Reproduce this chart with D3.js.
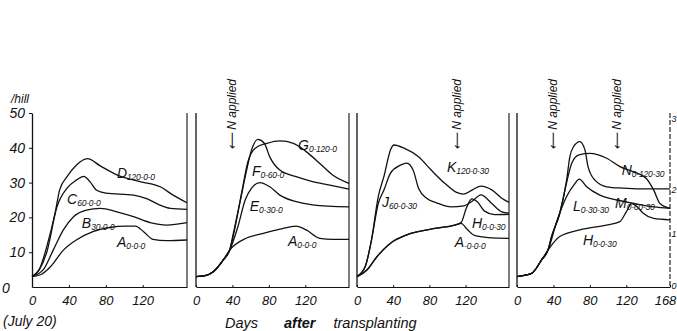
<!DOCTYPE html>
<html>
<head>
<meta charset="utf-8">
<script src="https://cdn.jsdelivr.net/npm/d3@7"></script>
<style>
  body { margin: 0; background: #fff; }
  svg text { font-family: "Liberation Sans", Arial, sans-serif; font-style: italic; fill: #111; }
</style>
</head>
<body>
<svg id="chart" width="677" height="331"></svg>
<script>
// dry matter per hill (g) vs days after transplanting
const xTicks = [0, 40, 80, 120];
const xTicksLast = [0, 40, 80, 120, 168];
const yTicks = [10, 20, 30, 40, 50];

// panel 1
const p1A = [[0,3],[10,3.6],[20,5.8],[34,10.6],[48,13.5],[66,15.9],[84,17.1],[102,17.5],[112,17.5],[121,15.9],[131,13.7],[146,13.3],[168,13.5]];
const p1B = [[0,3],[12,4.9],[23,10.6],[34,16.4],[45,20.2],[59,22.1],[74,22.6],[92,21.6],[110,20.2],[128,18.5],[146,17.8],[168,18.5]];
const p1C = [[0,3],[8,5],[16,10],[27,23],[38,28.4],[48,30.7],[56,31.8],[63,30.2],[70,27.8],[80,27],[110,26.4],[125,25.3],[138,23.6],[150,22.6],[168,22.3]];
const p1D = [[0,3],[8.7,5.5],[16,11.6],[25,21.2],[30,27.9],[38,31.7],[48,35],[60,36.9],[74,34.8],[92,32.2],[117,30.3],[139,28.8],[153,26.4],[168,24.2]];

// panel 2
const p2A = [[0,3],[10,3.3],[19,4.4],[30,7.8],[37,10.6],[55,14],[74,15.4],[92,16.6],[110,17.5],[121,16.4],[136,14],[150,13.7],[168,13.7]];
const p2E = [[0,3],[10,3.3],[19,4.4],[30,7.8],[37,10.6],[46,17.3],[54,25],[61,28.4],[70,30],[81,28.8],[92,26.4],[110,24.5],[128,23.6],[168,23]];
const p2F = [[0,3],[10,3.3],[19,4.4],[30,7.8],[37,10.6],[41,15.4],[48,24],[55.6,33.6],[61,39.4],[68,42.4],[75,41.3],[81,37.4],[92,33.6],[110,31.7],[128,30.3],[147,29.3],[168,28.1]];
const p2G = [[0,3],[10,3.3],[19,4.4],[30,7.8],[37,10.6],[42,16],[50,26.9],[57,36],[65,39.9],[78,41.3],[92,42],[107,41.3],[121,38.9],[136,35.5],[150,32.2],[168,29.8]];

// panel 3
const p3A = [[0,3],[11,4.9],[22,8.7],[37,12.6],[55,15],[88,16.9],[108,17.8],[115,18.3],[122,16.5],[130,14.8],[145,14.2],[168,14]];
const p3H = [[0,3],[11,4.9],[22,8.7],[37,12.6],[55,15],[88,16.9],[108,17.8],[115,18.5],[121,22.8],[127,25.3],[133,24.5],[141,21.8],[152,20.8],[168,20.9]];
const p3J = [[0,3],[9,5.8],[16,13.5],[23.5,24],[30,28],[37,32.7],[48,35],[55,35.6],[62,33.6],[68,28.4],[77,25.5],[88,24.2],[104,23],[118,23.3],[128,24.8],[137,26.5],[149,24],[160,21.6],[168,21.2]];
const p3K = [[0,3],[9,5.8],[16,13.5],[23.5,26],[30,32],[37,39.4],[41,40.8],[52,39.9],[68,37.4],[82,33.6],[97,29.8],[110,27.2],[118,26.7],[128,28],[137,29],[149,27.9],[160,25.5],[168,24.3]];

// panel 4
const p4H = [[0,3],[16,3.9],[27,7.8],[34,10.6],[47,14.5],[69,16.4],[98,17.8],[113,18.8],[120,21.6],[126,24],[131,23.3],[138.6,21.2],[150,19.7],[168,19.3]];
const p4L = [[0,3],[16,3.9],[27,7.8],[34,10.6],[43.6,18.8],[54.5,26],[63,29.5],[68.4,31],[76.5,28.8],[91,26.4],[109.5,25],[131,23.9],[150,23],[168,22.6]];
const p4M = [[0,3],[16,3.9],[27,7.8],[34,10.6],[38,14.5],[47,21.2],[54.5,30.7],[58,37.4],[62,40.3],[69,41.8],[74.6,39.4],[78,34.6],[85.6,30.7],[98.5,28.8],[116,28.4],[135,28.2],[168,28.2]];
const p4N = [[0,3],[16,3.9],[27,7.8],[34,10.6],[38,14.5],[47,21.2],[54.5,30],[60,35.5],[68,38],[80,38.4],[98.5,37],[113,34.6],[128,33.1],[142,31.2],[150,27.9],[157,24],[168,22.6]];

// curve labels: letter, subscript, anchor [day, value]
const p1Labels = [["D","120-0-0",[92,31.3]],["C","60-0-0",[38,23.9]],["B","30-0-0",[54,17]],["A","0-0-0",[92,11.5]]];
const p2Labels = [["G","0-120-0",[112,39.4]],["F","0-60-0",[61.5,31.9]],["E","0-30-0",[59,21.8]],["A","0-0-0",[101,11.8]]];
const p3Labels = [["K","120-0-30",[99.5,33]],["J","60-0-30",[27.6,23]],["H","0-0-30",[127,17]],["A","-0-0-0",[108,11.5]]];
const p4Labels = [["N","0-120-30",[115,32.2]],["M","0-60-30",[107.6,22.7]],["L","0-30-30",[61.5,21.8]],["H","0-0-30",[72.4,12.1]]];

// days on which N was top-dressed
const p2Applied = [40];
const p3Applied = [110];
const p4Applied = [40, 110];

const panels = [
  { left: 32,  right: 187, series: [p1A, p1B, p1C, p1D], labels: p1Labels, applied: [],        ticks: xTicks },
  { left: 196, right: 349, series: [p2A, p2E, p2F, p2G], labels: p2Labels, applied: p2Applied, ticks: xTicks },
  { left: 357, right: 509, series: [p3A, p3H, p3J, p3K], labels: p3Labels, applied: p3Applied, ticks: xTicks },
  { left: 517, right: 670, series: [p4H, p4L, p4M, p4N], labels: p4Labels, applied: p4Applied, ticks: xTicksLast }
];

const svg = d3.select('#chart');
const y = d3.scaleLinear().domain([0, 50]).range([287, 113]);

panels.forEach((p, i) => {
  const x = d3.scaleLinear().domain([0, 168]).range([p.left, p.right]);
  const g = svg.append('g');

  // bottom axis
  const ax = g.append('g')
    .attr('transform', 'translate(0,' + y(0) + ')')
    .call(d3.axisBottom(x).tickValues(p.ticks).tickSizeInner(-2).tickSizeOuter(0).tickPadding(9).tickFormat(d3.format('d')));
  ax.select('.domain').attr('stroke', '#111').attr('stroke-width', 1.2);
  ax.selectAll('.tick line').attr('stroke', '#111');
  ax.selectAll('.tick text').attr('font-size', 13).attr('font-family', null).attr('fill', '#111')
    .attr('dx', d => d === 168 ? -5 : 0);

  // left axis
  if (i === 0) {
    const ay = g.append('g')
      .attr('transform', 'translate(' + p.left + ',0)')
      .call(d3.axisLeft(y).tickValues(yTicks).tickSizeInner(3).tickSizeOuter(0).tickPadding(4));
    ay.select('.domain').attr('stroke', '#111').attr('stroke-width', 1.3);
    ay.selectAll('.tick line').attr('stroke', '#111');
    ay.selectAll('.tick text').attr('font-size', 14).attr('font-family', null).attr('fill', '#111');
    g.append('text').attr('x', 2).attr('y', y(0) + 6).attr('font-size', 14).text('0');
    g.append('text').attr('x', 11).attr('y', 103).attr('font-size', 12).text('/hill');
  } else {
    g.append('line').attr('x1', p.left).attr('x2', p.left).attr('y1', y(50)).attr('y2', y(0))
      .attr('stroke', '#111').attr('stroke-width', 1.3);
  }

  // right border
  g.append('line').attr('x1', p.right).attr('x2', p.right).attr('y1', y(50)).attr('y2', y(0))
    .attr('stroke', '#111').attr('stroke-width', 1.1)
    .attr('stroke-dasharray', i === 3 ? '5,2' : null);

  // growth curves
  const line = d3.line()
    .x(d => x(d[0]))
    .y(d => y(d[1]))
    .curve(d3.curveMonotoneX);

  g.selectAll('path.curve')
    .data(p.series)
    .enter().append('path')
    .attr('class', 'curve')
    .attr('d', line)
    .attr('fill', 'none')
    .attr('stroke', '#111')
    .attr('stroke-width', 1.3);

  // curve labels
  p.labels.forEach(l => {
    const t = g.append('text')
      .attr('x', x(l[2][0]))
      .attr('y', y(l[2][1]))
      .attr('font-size', 14);
    t.append('tspan').text(l[0]);
    t.append('tspan').attr('font-size', 8.5).attr('dy', 2).attr('letter-spacing', -0.2).text(l[1]);
  });

  // N applied arrows
  p.applied.forEach(day => {
    g.append('text')
      .attr('transform', 'translate(' + (x(day) + 4) + ',150) rotate(-90)')
      .attr('font-size', 12)
      .text('\u27F5 N applied');
  });
});

// tick labels of the neighbouring axis, cut by the right edge
const edgeLabels = [['3', 122], ['2', 193], ['1', 237], ['0', 289]];
svg.selectAll('text.edge')
  .data(edgeLabels)
  .enter().append('text')
  .attr('class', 'edge')
  .attr('x', 671.5)
  .attr('y', d => d[1])
  .attr('font-size', 9)
  .text(d => d[0]);

svg.append('text').attr('x', 3).attr('y', 326).attr('font-size', 14).text('(July 20)');
const cap = svg.append('text').attr('x', 225).attr('y', 328).attr('font-size', 14.5);
cap.append('tspan').text('Days');
cap.append('tspan').attr('dx', 26).attr('font-weight', 'bold').text('after');
cap.append('tspan').attr('dx', 18).text('transplanting');
</script>
</body>
</html>
